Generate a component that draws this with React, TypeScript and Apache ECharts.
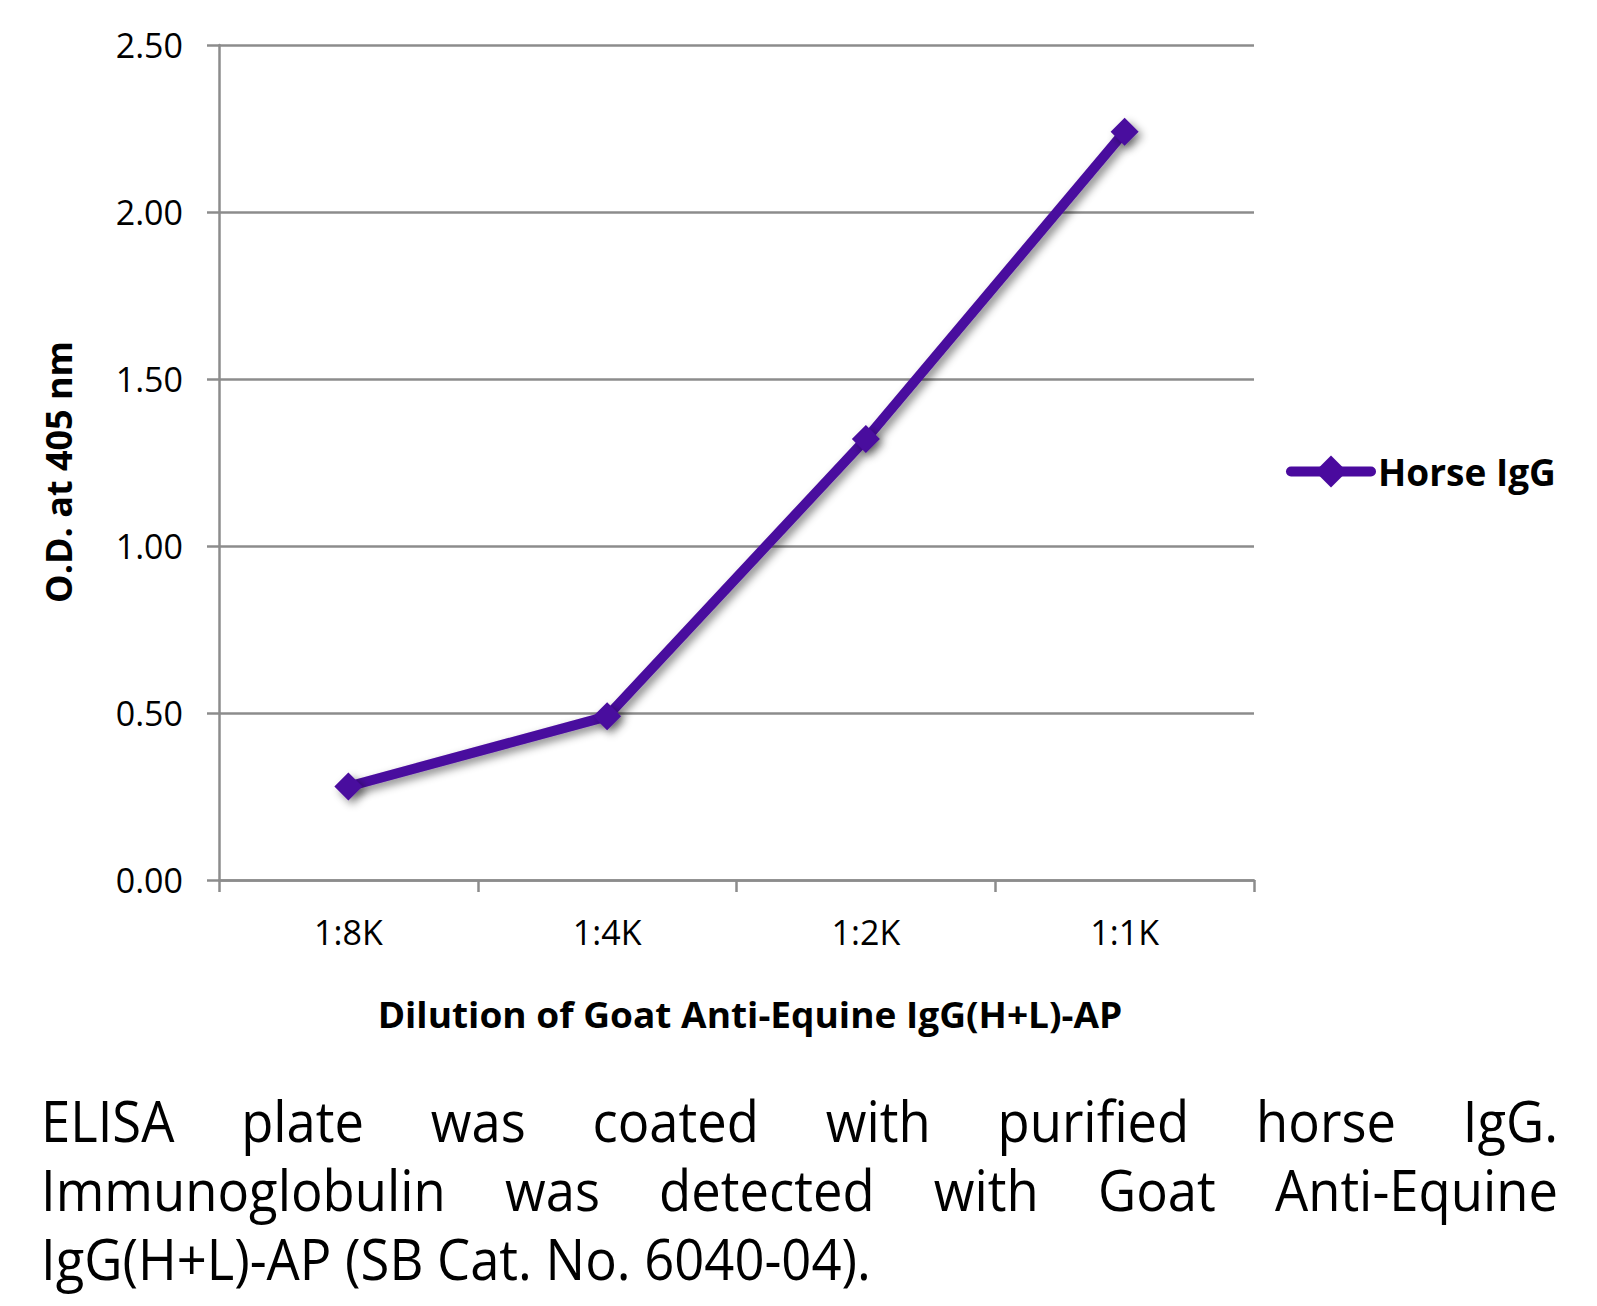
import React, { useEffect, useRef } from "react";
import * as echarts from "echarts";

const categories = ["1:8K", "1:4K", "1:2K", "1:1K"];
const horseIgG = [0.28, 0.49, 1.32, 2.24];
const seriesName = "Horse IgG";
const yTitle = "O.D. at 405 nm";
const xTitle = "Dilution of Goat Anti-Equine IgG(H+L)-AP";
const captionLines = [
  ["ELISA", "plate", "was", "coated", "with", "purified", "horse", "IgG."],
  ["Immunoglobulin", "was", "detected", "with", "Goat", "Anti-Equine"],
  ["IgG(H+L)-AP (SB Cat. No. 6040-04)."],
];

const FONT = '"Open Sans", "DejaVu Sans", sans-serif';
const LINE_COLOR = "#4a0a9e";
const GRID_COLOR = "#8c8c8c";

function measure(text: string, font: string): number {
  const c = document.createElement("canvas");
  const ctx = c.getContext("2d")!;
  ctx.font = font;
  return ctx.measureText(text).width;
}

export default function App() {
  const ref = useRef<HTMLDivElement>(null);
  useEffect(() => {
    if (!ref.current) return;
    const chart = echarts.init(ref.current, undefined, { renderer: "svg" });

    // caption layout (justified lines 1-2, left line 3)
    const capSize = 56;
    const capFont = `${capSize}px ${FONT}`;
    const line3W = measure(captionLines[2][0], capFont);
    const capScale = 830 / line3W;
    const capLeft = 41;
    const capRight = 1558;
    const baselines = [1140, 1209, 1278];
    const captionEls: any[] = [];
    captionLines.forEach((words, li) => {
      const widths = words.map((w) => measure(w, capFont) * capScale);
      const total = widths.reduce((a, b) => a + b, 0);
      const justify = li < 2 && words.length > 1;
      const gap = justify ? (capRight - capLeft - total) / (words.length - 1) : 0;
      let x = capLeft;
      words.forEach((w, i) => {
        captionEls.push({
          type: "text",
          x,
          y: baselines[li] - 20,
          scaleX: capScale,
          style: {
            text: w,
            font: capFont,
            fill: "#000",
            textAlign: "left",
            textVerticalAlign: "middle",
          },
        });
        x += widths[i] + gap;
      });
    });

    const xtFont = `bold 35px ${FONT}`;
    const xtScale = 745 / measure(xTitle, xtFont);
    const ytFont = `bold 35px ${FONT}`;
    const ytScale = 262 / measure(yTitle, ytFont);

    const shadow = {
      shadowColor: "rgba(0,0,0,0.45)",
      shadowBlur: 8,
      shadowOffsetX: 4,
      shadowOffsetY: 4,
    };

    chart.setOption({
      animation: false,
      backgroundColor: "#fff",
      grid: { left: 219, top: 45, width: 1035, height: 835, containLabel: false },
      legend: {
        data: [seriesName],
        left: 1281,
        top: 448,
        itemWidth: 80,
        itemHeight: 40,
        itemGap: 10,
        textStyle: {
          fontFamily: FONT,
          fontWeight: "bold",
          fontSize: 37,
          color: "#000",
          padding: [0, 0, 0, 2],
        },
        lineStyle: { width: 10, cap: "round", color: LINE_COLOR },
        itemStyle: { color: LINE_COLOR },
      },
      xAxis: {
        type: "category",
        data: categories,
        boundaryGap: true,
        axisLine: { show: true, lineStyle: { color: GRID_COLOR, width: 2.5 } },
        axisTick: { show: true, length: 12, alignWithLabel: false, lineStyle: { color: GRID_COLOR, width: 2.5 } },
        axisLabel: { fontFamily: FONT, fontSize: 34, color: "#000", margin: 35 },
        splitLine: { show: false },
      },
      yAxis: {
        type: "value",
        min: 0,
        max: 2.5,
        interval: 0.5,
        axisLine: { show: true, lineStyle: { color: GRID_COLOR, width: 2.5 } },
        axisTick: { show: true, length: 12, lineStyle: { color: GRID_COLOR, width: 2.5 } },
        axisLabel: {
          fontFamily: FONT,
          fontSize: 34,
          color: "#000",
          margin: 36,
          formatter: (v: number) => v.toFixed(2),
        },
        splitLine: { show: true, lineStyle: { color: GRID_COLOR, width: 2.5 } },
      },
      series: [
        {
          name: seriesName,
          type: "line",
          data: horseIgG,
          symbol: "diamond",
          symbolSize: 28,
          lineStyle: { color: LINE_COLOR, width: 10, ...shadow },
          itemStyle: { color: LINE_COLOR, ...shadow },
        },
      ],
      graphic: [
        {
          type: "text",
          x: 58,
          y: 472,
          rotation: Math.PI / 2,
          scaleX: ytScale,
          style: {
            text: yTitle,
            font: ytFont,
            fill: "#000",
            textAlign: "center",
            textVerticalAlign: "middle",
          },
        },
        {
          type: "text",
          x: 750,
          y: 1014,
          scaleX: xtScale,
          style: {
            text: xTitle,
            font: xtFont,
            fill: "#000",
            textAlign: "center",
            textVerticalAlign: "middle",
          },
        },
        ...captionEls,
      ],
    });
    return () => chart.dispose();
  }, []);
  return (
    <div
      ref={ref}
      style={{ position: "absolute", left: 0, top: 0, width: 1597, height: 1306 }}
    />
  );
}
